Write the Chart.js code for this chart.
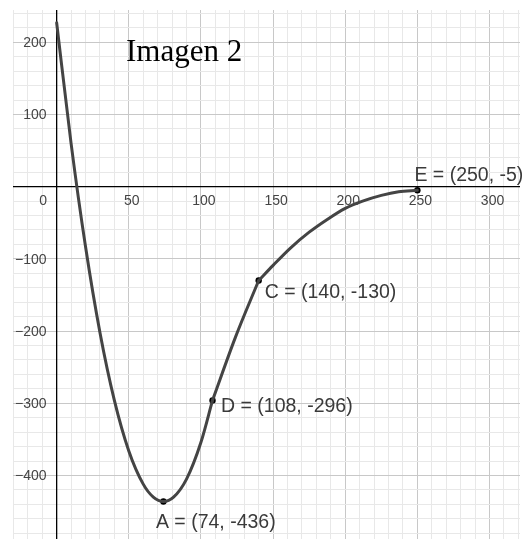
<!DOCTYPE html>
<html>
<head>
<meta charset="utf-8">
<script src="https://cdn.jsdelivr.net/npm/chart.js@4"></script>
<style>
  html, body { margin: 0; padding: 0; background: #fff; }
  #graf { display: block; }
</style>
</head>
<body>
<canvas id="graf" width="524" height="543"></canvas>
<script>
// tramo 1: desde x = 0 hasta D, pasando por el minimo A
const tramo1X = [0, 10, 20, 30, 40, 50, 60, 67, 74, 81, 90, 100, 108];
const tramo1Y = [227, 60, -83, -202, -296, -366, -412, -430, -436, -430, -405, -354, -296];
// tramo 2: de D a C
const tramo2X = [108, 124, 140];
const tramo2Y = [-296, -208, -130];
// tramo 3: de C a E
const tramo3X = [140, 150, 162, 175, 187, 200, 212, 225, 237, 250];
const tramo3Y = [-130, -109, -85, -63, -46, -30, -20, -12, -7, -5];

// puntos marcados
const puntosNombre = ["A", "D", "C", "E"];
const puntosX = [74, 108, 140, 250];
const puntosY = [-436, -296, -130, -5];

// etiquetas de los ejes
const ticksX = [50, 100, 150, 200, 250, 300];
const ticksY = [200, 100, -100, -200, -300, -400];

const XMIN = -30.25, XMAX = 321.1;
const YMIN = -488, YMAX = 244.7;

const fuenteSans = '"Liberation Sans", Arial, sans-serif';

// desplazamiento de cada etiqueta respecto a su punto (px)
const posEtiqueta = {
    A: [-7.5, 27],
    D: [8.5, 12],
    C: [6, 17],
    E: [-3, -9]
};

const aPares = (xs, ys) => xs.map((x, i) => ({ x: x, y: ys[i] }));

const rejilla = (mayor) => ({
    drawTicks: false,
    lineWidth: 1,
    color: (ctx) => {
        const v = ctx.tick.value;
        if (v === 0) return "rgba(0,0,0,0)";
        return Math.abs(v % mayor) < 1e-6 ? "#c8c8c8" : "#e8e8e8";
    }
});

const valoresRejilla = (desde, hasta, paso) => {
    const out = [];
    for (let v = desde; v <= hasta; v += paso) out.push({ value: v });
    return out;
};

const ejesYTextos = {
    id: "ejesYTextos",
    beforeDatasetsDraw(chart) {
        const { ctx, chartArea, scales } = chart;
        const sx = scales.x, sy = scales.y;
        const x0 = sx.getPixelForValue(0);
        const y0 = sy.getPixelForValue(0);

        ctx.save();
        // ejes
        ctx.strokeStyle = "#000";
        ctx.lineWidth = 1.3;
        ctx.beginPath();
        ctx.moveTo(chartArea.left, y0);
        ctx.lineTo(chartArea.right, y0);
        ctx.moveTo(x0, chartArea.top);
        ctx.lineTo(x0, chartArea.bottom);
        ctx.stroke();

        // numeros de los ejes
        ctx.fillStyle = "#444";
        ctx.font = "14px " + fuenteSans;
        ctx.textBaseline = "middle";
        ctx.textAlign = "center";
        ticksX.forEach(v => {
            ctx.fillText(String(v), sx.getPixelForValue(v) + 3, y0 + 14.5);
        });
        ctx.fillText("0", x0 - 13.5, y0 + 14.5);
        ctx.textAlign = "right";
        ticksY.forEach(v => {
            const txt = v < 0 ? "\u2212" + Math.abs(v) : String(v);
            ctx.fillText(txt, x0 - 10, sy.getPixelForValue(v) + 1);
        });

        // titulo
        ctx.fillStyle = "#000";
        ctx.font = "31px \"Liberation Serif\", \"Times New Roman\", serif";
        ctx.textAlign = "left";
        ctx.textBaseline = "alphabetic";
        ctx.fillText("Imagen 2", chartArea.left + 113, chartArea.top + 50.5);
        ctx.restore();
    },
    afterDatasetsDraw(chart) {
        const { ctx, scales } = chart;
        ctx.save();
        ctx.fillStyle = "#3a3a3a";
        ctx.font = "19.5px " + fuenteSans;
        ctx.textAlign = "left";
        ctx.textBaseline = "alphabetic";
        puntosNombre.forEach((n, i) => {
            const px = scales.x.getPixelForValue(puntosX[i]);
            const py = scales.y.getPixelForValue(puntosY[i]);
            const d = posEtiqueta[n];
            ctx.fillText(n + " = (" + puntosX[i] + ", " + puntosY[i] + ")", px + d[0], py + d[1]);
        });
        ctx.restore();
    }
};

const estiloCurva = {
    showLine: true,
    borderColor: "#444",
    borderWidth: 3,
    pointRadius: 0,
    cubicInterpolationMode: "monotone",
    borderCapStyle: "round",
    fill: false
};

new Chart(document.getElementById("graf"), {
    type: "scatter",
    data: {
        datasets: [
            Object.assign({ data: aPares(tramo1X, tramo1Y) }, estiloCurva),
            Object.assign({ data: aPares(tramo2X, tramo2Y) }, estiloCurva),
            Object.assign({ data: aPares(tramo3X, tramo3Y) }, estiloCurva),
            {
                data: aPares(puntosX, puntosY),
                showLine: false,
                pointRadius: 3.2,
                pointBackgroundColor: "#000",
                pointBorderWidth: 0
            }
        ]
    },
    options: {
        responsive: false,
        animation: false,
        events: [],
        layout: { padding: { left: 13, top: 10, right: 0, bottom: 0 } },
        plugins: {
            legend: { display: false },
            tooltip: { enabled: false },
            title: { display: false }
        },
        scales: {
            x: {
                type: "linear",
                min: XMIN,
                max: XMAX,
                afterBuildTicks: (s) => { s.ticks = valoresRejilla(-30, 320, 10); },
                ticks: { display: false },
                border: { display: false },
                grid: rejilla(50)
            },
            y: {
                type: "linear",
                min: YMIN,
                max: YMAX,
                afterBuildTicks: (s) => { s.ticks = valoresRejilla(-480, 240, 20); },
                ticks: { display: false },
                border: { display: false },
                grid: rejilla(100)
            }
        }
    },
    plugins: [ejesYTextos]
});
</script>
</body>
</html>
